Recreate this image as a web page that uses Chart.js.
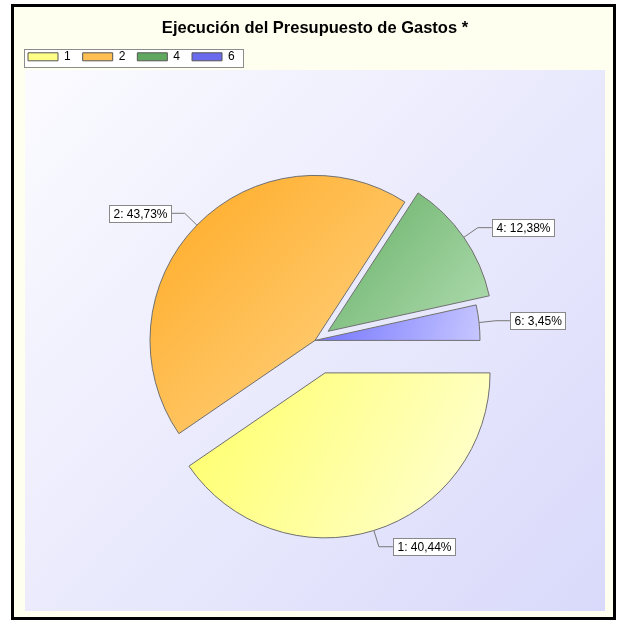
<!DOCTYPE html>
<html>
<head>
<meta charset="utf-8">
<script src="https://cdn.jsdelivr.net/npm/chart.js@4.4.1/dist/chart.umd.min.js"></script>
<style>
  html, body { margin: 0; padding: 0; background: #fff; }
  #wrap { width: 619px; height: 621px; }
</style>
</head>
<body>
<div id="wrap"><canvas id="pieChart" width="619" height="621"></canvas></div>
<script>
// Data
const categories = ['1', '2', '4', '6'];
const shares = [40.44, 43.73, 12.38, 3.45];
// how far each slice is pulled out, in px
const explode = [34, 0, 16, 0];

// Slice colours: saturated corner -> pale corner
const darkColors = ['#ffff66', '#ffaa22', '#66af66', '#7272ff'];
const paleColors = ['#ffffd8', '#ffd68c', '#b0dcb0', '#c6c6ff'];
const legendColors = ['#ffff88', '#ffbf55', '#60a860', '#6a6aee'];

const FONT = '"Liberation Sans", Arial, sans-serif';

function fmt(v) {
    return v.toFixed(2).replace('.', ',') + '%';
}

// bounding box of one sector, used for its gradient
function sectorBounds(arc) {
    const pts = [[arc.x, arc.y]];
    const r = arc.outerRadius;
    const add = a => pts.push([arc.x + Math.cos(a) * r, arc.y + Math.sin(a) * r]);
    add(arc.startAngle);
    add(arc.endAngle);
    const q = Math.PI / 2;
    for (let k = Math.ceil(arc.startAngle / q); k * q < arc.endAngle; k++) add(k * q);
    const xs = pts.map(p => p[0]), ys = pts.map(p => p[1]);
    return { x0: Math.min(...xs), y0: Math.min(...ys), x1: Math.max(...xs), y1: Math.max(...ys) };
}

// pull slices straight out (Chart.js offset also grows the radius)
const explodeSlices = {
    id: 'explodeSlices',
    afterDatasetsUpdate(chart) {
        chart.getDatasetMeta(0).data.forEach((arc, i) => {
            const mid = (arc.startAngle + arc.endAngle) / 2;
            arc.x += Math.cos(mid) * explode[i];
            arc.y += Math.sin(mid) * explode[i];
        });
    }
};

// frame, plot panel and legend box
const backdrop = {
    id: 'backdrop',
    beforeDraw(chart) {
        const { ctx, width, height } = chart;
        ctx.save();
        ctx.fillStyle = '#ffffff';
        ctx.fillRect(0, 0, width, height);
        ctx.fillStyle = '#fffff0';
        ctx.fillRect(12, 5, 603, 614);
        ctx.strokeStyle = '#000';
        ctx.lineWidth = 3;
        ctx.strokeRect(12.5, 5.5, 602, 613);

        const g = ctx.createLinearGradient(25, 70, 605, 611);
        g.addColorStop(0, '#fbfbff');
        g.addColorStop(1, '#d9d9fb');
        ctx.fillStyle = g;
        ctx.fillRect(25, 70, 580, 541);

        const boxes = chart.legend.legendHitBoxes;
        if (boxes && boxes.length) {
            const first = boxes[0], last = boxes[boxes.length - 1];
            const x0 = first.left - 4, x1 = last.left + last.width + 8;
            const y0 = first.top - 2, y1 = first.top + first.height + 4;
            ctx.fillStyle = '#ffffff';
            ctx.fillRect(x0, y0, x1 - x0, y1 - y0);
            ctx.strokeStyle = '#8c8c8c';
            ctx.lineWidth = 1;
            ctx.strokeRect(Math.round(x0) + 0.5, Math.round(y0) + 0.5, Math.round(x1 - x0), Math.round(y1 - y0));
        }
        ctx.restore();
    }
};

// per-slice diagonal gradient
const gradientFill = {
    id: 'gradientFill',
    beforeDatasetsDraw(chart) {
        const { ctx } = chart;
        chart.getDatasetMeta(0).data.forEach((arc, i) => {
            const b = sectorBounds(arc);
            const g = ctx.createLinearGradient(b.x0, b.y0, b.x1, b.y1);
            g.addColorStop(0, darkColors[i]);
            g.addColorStop(1, paleColors[i]);
            arc.options = Object.assign({}, arc.options, { backgroundColor: g });
        });
    }
};

// boxed labels with leader lines
const sliceLabels = {
    id: 'sliceLabels',
    afterDatasetsDraw(chart) {
        const { ctx } = chart;
        ctx.save();
        ctx.font = '12px ' + FONT;
        ctx.textBaseline = 'middle';
        chart.getDatasetMeta(0).data.forEach((arc, i) => {
            const mid = (arc.startAngle + arc.endAngle) / 2;
            const cos = Math.cos(mid), sin = Math.sin(mid);
            const r = arc.outerRadius;
            const x1 = arc.x + cos * r, y1 = arc.y + sin * r;
            const x2 = arc.x + cos * (r + 17), y2 = arc.y + sin * (r + 17);
            const dir = cos >= 0 ? 1 : -1;
            const x3 = x2 + dir * 14;

            ctx.strokeStyle = '#777';
            ctx.lineWidth = 1;
            ctx.beginPath();
            ctx.moveTo(x1, y1);
            ctx.lineTo(x2, y2);
            ctx.lineTo(x3, y2);
            ctx.stroke();

            const text = categories[i] + ': ' + fmt(shares[i]);
            const w = Math.round(ctx.measureText(text).width + 8);
            const h = 17;
            const bx = Math.round(dir > 0 ? x3 : x3 - w);
            const by = Math.round(y2 - h / 2);
            ctx.fillStyle = '#fff';
            ctx.fillRect(bx, by, w, h);
            ctx.strokeStyle = '#888';
            ctx.strokeRect(bx + 0.5, by + 0.5, w, h);
            ctx.fillStyle = '#000';
            ctx.fillText(text, bx + 4.5, by + h / 2 + 1);
        });
        ctx.restore();
    }
};

new Chart(document.getElementById('pieChart'), {
    type: 'pie',
    data: {
        labels: categories,
        datasets: [{
            data: shares,
            backgroundColor: darkColors,
            borderColor: '#707070',
            borderWidth: 1,
            radius: 165
        }]
    },
    options: {
        responsive: false,
        animation: false,
        events: [],
        rotation: 90,
        layout: {
            padding: { top: 0, left: 16, right: 5, bottom: 13 }
        },
        plugins: {
            title: {
                display: true,
                text: 'Ejecución del Presupuesto de Gastos *',
                color: '#000',
                font: { family: FONT, size: 16.5, weight: 'bold' },
                padding: { top: 19, bottom: 0 }
            },
            legend: {
                position: 'top',
                align: 'start',
                labels: {
                    color: '#000',
                    font: { family: FONT, size: 12 },
                    boxWidth: 30,
                    boxHeight: 8,
                    padding: 12,
                    generateLabels: chart => categories.map((c, i) => ({
                        text: c,
                        fillStyle: legendColors[i],
                        strokeStyle: '#555',
                        lineWidth: 1,
                        index: i
                    }))
                }
            },
            tooltip: { enabled: false }
        }
    },
    plugins: [explodeSlices, backdrop, gradientFill, sliceLabels]
});
</script>
</body>
</html>
